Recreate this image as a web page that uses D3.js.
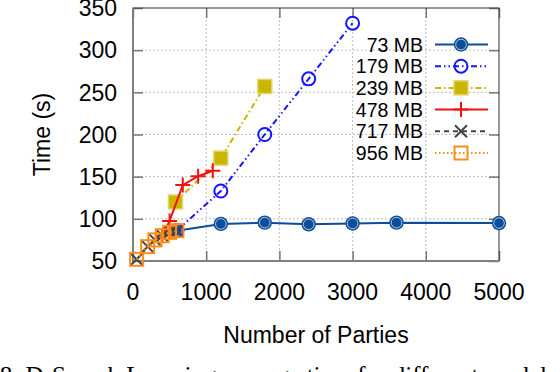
<!DOCTYPE html>
<html>
<head>
<meta charset="utf-8">
<title>Time vs Number of Parties</title>
<script src="https://cdn.jsdelivr.net/npm/d3@7/dist/d3.min.js"></script>
<style>
  html, body { margin:0; padding:0; background:#fff; overflow:hidden; }
  svg { display:block; font-family:"Liberation Sans", Arial, sans-serif; }
</style>
</head>
<body>
<div id="chart"></div>
<script>
// values
var seriesNames = ['73 MB', '179 MB', '239 MB', '478 MB', '717 MB', '956 MB'];

var parties73  = [600, 1200, 1800, 2400, 3000, 3600, 5000];
var time73     = [86, 94, 95.5, 93.5, 94.5, 95.5, 95];

var parties179 = [600, 1200, 1800, 2400, 3000];
var time179    = [86, 133, 200, 266, 332];

var parties239 = [580, 1200, 1800];
var time239    = [120, 172, 257];

var parties478 = [400, 500, 680, 890, 1090];
var time478    = [80, 97.5, 140, 150.5, 157];

var parties717 = [50, 200, 300, 400, 500, 600];
var time717    = [52, 67, 75, 80, 84, 86];

var parties956 = [50, 200, 300, 400, 500, 600];
var time956    = [52, 67, 75, 80, 84, 86];

var xTicks = [0, 1000, 2000, 3000, 4000, 5000];
var yTicks = [50, 100, 150, 200, 250, 300, 350];

var W = 560, H = 372;
var pL = 133, pR = 499, pT = 8, pB = 261;

var x = d3.scaleLinear().domain([0, 5000]).range([pL, pR]);
var y = d3.scaleLinear().domain([50, 350]).range([pB, pT]);

var svg = d3.select('#chart').append('svg')
  .attr('width', W)
  .attr('height', H);

// grid
var grid = svg.append('g')
  .attr('stroke', '#bdbdbd')
  .attr('stroke-width', 1)
  .attr('stroke-dasharray', '2,2');
grid.selectAll('.gx').data(xTicks.slice(1, -1)).enter().append('line')
  .attr('x1', function(d) { return x(d); })
  .attr('x2', function(d) { return x(d); })
  .attr('y1', pT).attr('y2', pB);
grid.selectAll('.gy').data(yTicks.slice(1, -1)).enter().append('line')
  .attr('y1', function(d) { return y(d); })
  .attr('y2', function(d) { return y(d); })
  .attr('x1', pL).attr('x2', pR);

// axes with inner ticks on all four sides
var tk = 10;
svg.append('g').attr('transform', 'translate(0,' + pB + ')')
  .call(d3.axisBottom(x).tickValues(xTicks).tickSizeInner(-tk).tickSizeOuter(0).tickFormat(''));
svg.append('g').attr('transform', 'translate(0,' + pT + ')')
  .call(d3.axisTop(x).tickValues(xTicks).tickSizeInner(-tk).tickSizeOuter(0).tickFormat(''));
svg.append('g').attr('transform', 'translate(' + pL + ',0)')
  .call(d3.axisLeft(y).tickValues(yTicks).tickSizeInner(-tk).tickSizeOuter(0).tickFormat(''));
svg.append('g').attr('transform', 'translate(' + pR + ',0)')
  .call(d3.axisRight(y).tickValues(yTicks).tickSizeInner(-tk).tickSizeOuter(0).tickFormat(''));
svg.selectAll('.domain').remove();
svg.selectAll('.tick line').attr('stroke', '#777').attr('stroke-width', 1.5);

// frame
svg.append('rect')
  .attr('x', pL).attr('y', pT)
  .attr('width', pR - pL).attr('height', pB - pT)
  .attr('fill', 'none').attr('stroke', '#333').attr('stroke-width', 1);
svg.append('path')
  .attr('d', 'M' + pL + ',' + pT + 'V' + pB + 'H' + pR)
  .attr('fill', 'none').attr('stroke', '#808080').attr('stroke-width', 2);

// tick labels
svg.append('g').selectAll('text').data(xTicks).enter().append('text')
  .attr('x', function(d) { return x(d); })
  .attr('y', 300)
  .attr('text-anchor', 'middle')
  .attr('font-size', 23)
  .text(function(d) { return d; });
svg.append('g').selectAll('text').data(yTicks).enter().append('text')
  .attr('x', 117)
  .attr('y', function(d) { return y(d); })
  .attr('dy', '0.36em')
  .attr('text-anchor', 'end')
  .attr('font-size', 23)
  .text(function(d) { return d; });

svg.append('text')
  .attr('x', (pL + pR) / 2).attr('y', 343)
  .attr('text-anchor', 'middle').attr('font-size', 23)
  .text('Number of Parties');
svg.append('text')
  .attr('transform', 'translate(50,' + ((pT + pB) / 2) + ') rotate(-90)')
  .attr('text-anchor', 'middle').attr('font-size', 23)
  .text('Time (s)');

// series
var series = [
  { name: seriesNames[0], xs: parties73,  ys: time73,  color: '#0b4c9b', dash: null,              mark: 'disc' },
  { name: seriesNames[1], xs: parties179, ys: time179, color: '#1515ff', dash: '6,3,1.5,3,1.5,3', mark: 'ring' },
  { name: seriesNames[2], xs: parties239, ys: time239, color: '#c9b600', dash: '6,3,1.5,3',       mark: 'fsquare' },
  { name: seriesNames[3], xs: parties478, ys: time478, color: '#f51010', dash: null,              mark: 'plus' },
  { name: seriesNames[4], xs: parties717, ys: time717, color: '#444444', dash: '5,4',             mark: 'cross' },
  { name: seriesNames[5], xs: parties956, ys: time956, color: '#ff8c1a', dash: '1.5,2.5',         mark: 'square' }
];

function drawMark(g, s, cx, cy) {
  if (s.mark === 'disc') {
    g.append('circle').attr('cx', cx).attr('cy', cy).attr('r', 7.2).attr('fill', s.color);
    g.append('circle').attr('cx', cx).attr('cy', cy).attr('r', 5.3)
      .attr('fill', 'none').attr('stroke', '#d8e2f0').attr('stroke-width', 0.8);
  } else if (s.mark === 'ring') {
    g.append('circle').attr('cx', cx).attr('cy', cy).attr('r', 6.5)
      .attr('fill', 'none').attr('stroke', s.color).attr('stroke-width', 2);
  } else if (s.mark === 'fsquare') {
    g.append('rect').attr('x', cx - 7).attr('y', cy - 7).attr('width', 14).attr('height', 14)
      .attr('fill', s.color).attr('stroke', '#e2d56a').attr('stroke-width', 1.5);
  } else if (s.mark === 'plus') {
    g.append('path').attr('d', 'M' + (cx - 7.5) + ',' + cy + 'h15M' + cx + ',' + (cy - 7.5) + 'v15')
      .attr('stroke', s.color).attr('stroke-width', 2);
  } else if (s.mark === 'cross') {
    g.append('path').attr('d', 'M' + (cx - 6) + ',' + (cy - 6) + 'l12,12M' + (cx - 6) + ',' + (cy + 6) + 'l12,-12')
      .attr('stroke', s.color).attr('stroke-width', 2);
  } else if (s.mark === 'square') {
    g.append('rect').attr('x', cx - 6.5).attr('y', cy - 6.5).attr('width', 13).attr('height', 13)
      .attr('fill', 'none').attr('stroke', s.color).attr('stroke-width', 2);
  }
}

var line = d3.line()
  .x(function(d) { return x(d[0]); })
  .y(function(d) { return y(d[1]); });

series.forEach(function(s) {
  var pts = d3.zip(s.xs, s.ys);
  var g = svg.append('g');
  g.append('path')
    .attr('d', line(pts))
    .attr('fill', 'none')
    .attr('stroke', s.color)
    .attr('stroke-width', 2)
    .attr('stroke-dasharray', s.dash);
  pts.forEach(function(p) { drawMark(g, s, x(p[0]), y(p[1])); });
});

// legend
var lg = svg.append('g');
series.forEach(function(s, i) {
  var ly = 44.5 + i * 21.7;
  lg.append('text')
    .attr('x', 423).attr('y', ly).attr('dy', '0.36em')
    .attr('text-anchor', 'end').attr('font-size', 19.5)
    .text(s.name);
  lg.append('line')
    .attr('x1', 435).attr('x2', 488).attr('y1', ly).attr('y2', ly)
    .attr('stroke', s.color).attr('stroke-width', 2)
    .attr('stroke-dasharray', s.dash);
  drawMark(lg, s, 461, ly);
});

// caption, cut off at the bottom of the picture
svg.append('text')
  .attr('x', -46).attr('y', 384)
  .attr('font-family', '"Liberation Serif", "Times New Roman", serif')
  .attr('font-size', 25)
  .attr('fill', '#000')
  .text('Fig. 8: D-Search Learning average time for different model sizes');
</script>
</body>
</html>
